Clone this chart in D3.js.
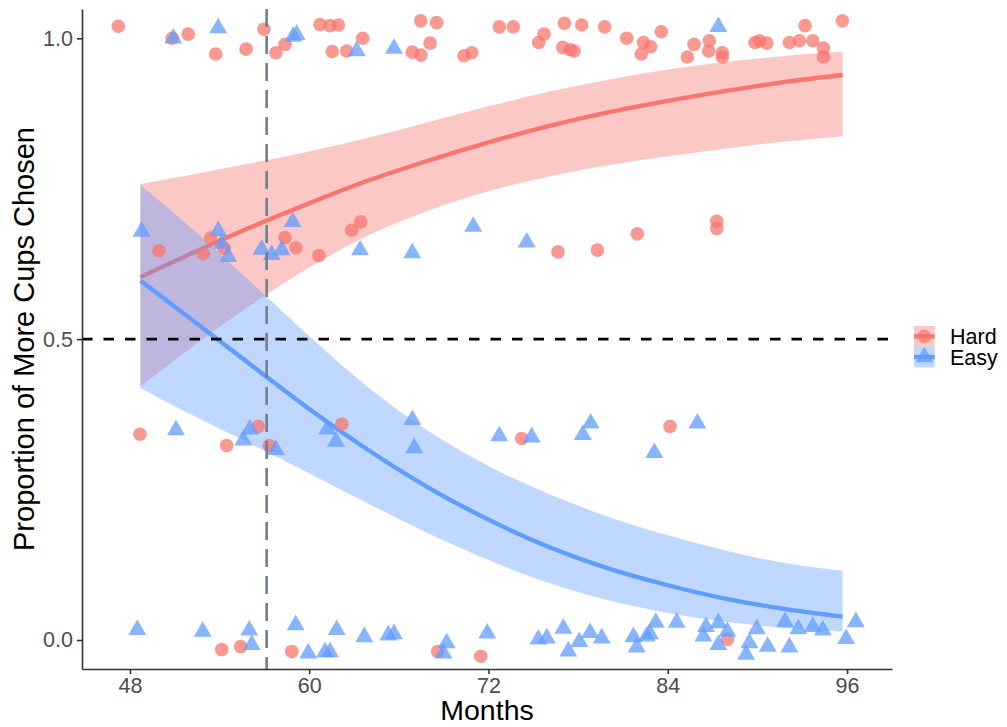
<!DOCTYPE html>
<html>
<head>
<meta charset="utf-8">
<script src="https://cdn.jsdelivr.net/npm/d3@7"></script>
<style>
  html, body { margin: 0; padding: 0; background: #fff; }
  svg { display: block; }
  text { font-family: "Liberation Sans", Arial, sans-serif; }
</style>
</head>
<body>
<svg id="chart" width="1007" height="727"></svg>
<script>
// ---------------- data ----------------
const groups = ["Hard", "Easy"];
const xTicks = [48, 60, 72, 84, 96];
const yTicks = [0.0, 0.5, 1.0];
const referenceAge = 57.15;
const chanceLevel = 0.5;

// Jittered observations (months, proportion)
const hardX = [47.22, 50.83, 51.90, 53.74, 55.77, 56.97, 57.77, 58.38, 60.72, 61.39, 61.95, 61.54, 62.51, 63.58, 66.90, 67.48, 68.09, 67.46, 68.53, 70.36, 70.88, 72.72, 73.66, 75.72, 75.36, 77.08, 78.24, 76.97, 77.46, 77.73, 79.78, 81.25, 82.37, 82.86, 82.23, 83.57, 85.31, 85.76, 86.78, 86.74, 87.65, 87.65, 89.84, 90.13, 90.63, 92.14, 92.81, 93.19, 93.71, 94.42, 94.42, 95.69,
  49.94, 52.91, 53.40, 54.31, 58.38, 59.11, 60.65, 62.84, 63.45, 76.65, 79.29, 81.96, 87.28, 87.28,
  48.67, 54.47, 56.59, 57.33, 62.19, 74.22, 84.15,
  54.14, 55.41, 58.83, 68.60, 71.48, 87.99];
const hardY = [1.020, 1.000, 1.007, 0.974, 0.982, 1.015, 0.976, 0.990, 1.023, 1.021, 1.022, 0.978, 0.979, 1.000, 0.977, 0.972, 0.992, 1.029, 1.026, 0.971, 0.976, 1.019, 1.019, 1.007, 0.993, 1.025, 1.022, 0.985, 0.981, 0.979, 1.019, 1.000, 0.993, 0.986, 0.974, 1.011, 0.969, 0.990, 0.996, 0.979, 0.976, 0.969, 0.993, 0.996, 0.992, 0.993, 0.996, 1.021, 0.996, 0.984, 0.969, 1.029,
  0.647, 0.642, 0.668, 0.651, 0.669, 0.652, 0.639, 0.681, 0.695, 0.645, 0.648, 0.675, 0.696, 0.684,
  0.342, 0.323, 0.355, 0.323, 0.359, 0.335, 0.355,
  -0.016, -0.011, -0.019, -0.019, -0.027, 0.001];

const easyX = [50.90, 53.91, 58.93, 59.16, 63.18, 65.67, 87.39,
  48.78, 53.91, 54.14, 54.58, 56.82, 57.49, 58.16, 58.89, 63.40, 66.90, 70.98, 74.56,
  51.08, 55.59, 56.03, 57.77, 61.21, 61.79, 66.90, 67.03, 72.72, 74.89, 78.84, 78.31, 83.10, 85.98,
  48.49, 52.87, 55.99, 56.15, 59.09, 59.94, 61.06, 61.39, 61.84, 63.69, 65.29, 65.67, 68.98, 69.20, 71.92, 75.34, 75.90, 77.01, 77.34, 78.08, 78.80, 79.58, 81.70, 81.92, 82.59, 82.81, 83.20, 84.60, 86.38, 86.56, 87.39, 87.39, 87.99, 89.24, 89.46, 89.96, 90.69, 91.85, 92.14, 92.74, 93.71, 94.38, 95.94, 96.59];
const easyY = [1.000, 1.017, 1.003, 1.006, 0.979, 0.983, 1.019,
  0.679, 0.680, 0.659, 0.637, 0.649, 0.640, 0.648, 0.695, 0.648, 0.643, 0.687, 0.661,
  0.349, 0.332, 0.350, 0.316, 0.350, 0.330, 0.366, 0.319, 0.339, 0.337, 0.360, 0.341, 0.311, 0.360,
  0.017, 0.014, 0.016, -0.008, 0.025, -0.022, -0.020, -0.020, 0.017, 0.005, 0.008, 0.010, -0.022, -0.005, 0.011, 0.001, 0.003, 0.019, -0.019, -0.003, 0.012, 0.003, 0.005, -0.012, 0.006, 0.010, 0.029, 0.029, 0.006, 0.022, 0.028, -0.008, 0.014, -0.024, -0.005, 0.018, -0.011, 0.030, -0.012, 0.018, 0.022, 0.016, 0.002, 0.030];

// Fitted logistic curves with 95% bands
const fitMonths = [48.7, 52, 56, 60, 64, 68, 72, 76, 80, 84, 88, 92, 95.7];
const hardFit   = [0.603, 0.641, 0.685, 0.726, 0.764, 0.797, 0.827, 0.854, 0.877, 0.896, 0.913, 0.928, 0.939];
const hardLower = [0.421, 0.484, 0.555, 0.619, 0.673, 0.714, 0.746, 0.770, 0.789, 0.804, 0.817, 0.829, 0.837];
const hardUpper = [0.758, 0.773, 0.792, 0.812, 0.835, 0.861, 0.887, 0.911, 0.931, 0.948, 0.961, 0.971, 0.978];
const easyFit   = [0.597, 0.535, 0.459, 0.384, 0.315, 0.253, 0.200, 0.155, 0.119, 0.091, 0.068, 0.051, 0.039];
const easyLower = [0.419, 0.376, 0.327, 0.277, 0.226, 0.177, 0.133, 0.095, 0.066, 0.045, 0.030, 0.020, 0.014];
const easyUpper = [0.756, 0.687, 0.597, 0.505, 0.419, 0.347, 0.289, 0.243, 0.205, 0.174, 0.148, 0.127, 0.115];

// ---------------- drawing ----------------
const colors = { Hard: "#F8766D", Easy: "#619CFF" };
const svg = d3.select("#chart");
const L = 82, R = 892, T = 9, B = 669;

const x = d3.scaleLinear().domain([44.79, 99.01]).range([L, R]);
const y = d3.scaleLinear().domain([-0.0482, 1.0487]).range([B, T]);

const plot = svg.append("g");

function smooth(name, fit, lo, hi) {
  const rows = fitMonths.map((m, i) => ({ m, f: fit[i], lo: lo[i], hi: hi[i] }));
  plot.append("path")
    .datum(rows)
    .attr("d", d3.area().x(d => x(d.m)).y0(d => y(d.lo)).y1(d => y(d.hi)).curve(d3.curveCatmullRom))
    .attr("fill", colors[name]).attr("fill-opacity", 0.4);
  plot.append("path")
    .datum(rows)
    .attr("d", d3.line().x(d => x(d.m)).y(d => y(d.f)).curve(d3.curveCatmullRom))
    .attr("fill", "none").attr("stroke", colors[name]).attr("stroke-width", 4.3);
}
smooth("Hard", hardFit, hardLower, hardUpper);
smooth("Easy", easyFit, easyLower, easyUpper);

// points
const hardPts = hardX.map((v, i) => [v, hardY[i]]);
const easyPts = easyX.map((v, i) => [v, easyY[i]]);
plot.selectAll("circle.hard").data(hardPts).join("circle")
  .attr("cx", d => x(d[0])).attr("cy", d => y(d[1])).attr("r", 6.8)
  .attr("fill", colors.Hard).attr("fill-opacity", 0.75);
const tri = d3.symbol().type(d3.symbolTriangle).size(140);
plot.selectAll("path.easy").data(easyPts).join("path")
  .attr("d", tri)
  .attr("transform", d => `translate(${x(d[0])},${y(d[1])})`)
  .attr("fill", colors.Easy).attr("fill-opacity", 0.75);

// reference lines
plot.append("line")
  .attr("x1", L).attr("x2", R).attr("y1", y(chanceLevel)).attr("y2", y(chanceLevel))
  .attr("stroke", "#000").attr("stroke-width", 2.8).attr("stroke-dasharray", "10.5,11");
plot.append("line")
  .attr("x1", x(referenceAge)).attr("x2", x(referenceAge)).attr("y1", T).attr("y2", B)
  .attr("stroke", "#708090").attr("stroke-width", 2.6).attr("stroke-dasharray", "18,9");

// axes
const xAxis = svg.append("g").attr("transform", `translate(0,${B})`)
  .call(d3.axisBottom(x).tickValues(xTicks).tickFormat(d3.format("d"))
    .tickSize(5).tickSizeOuter(0).tickPadding(4));
const yAxis = svg.append("g").attr("transform", `translate(${L},0)`)
  .call(d3.axisLeft(y).tickValues(yTicks).tickFormat(d3.format(".1f"))
    .tickSize(5).tickSizeOuter(0).tickPadding(4));
[xAxis, yAxis].forEach(g => {
  g.select(".domain").attr("stroke", "#333").attr("stroke-width", 1.6);
  g.selectAll(".tick line").attr("stroke", "#333").attr("stroke-width", 1.6);
  g.selectAll(".tick text").attr("fill", "#4D4D4D").attr("font-size", 21.5)
    .attr("font-family", "Liberation Sans, Arial, sans-serif");
});
xAxis.selectAll(".tick text").attr("dy", "0.72em");

// titles
svg.append("text").attr("x", (L + R) / 2).attr("y", 720)
  .attr("text-anchor", "middle").attr("font-size", 28.5).attr("fill", "#000").text("Months");
svg.append("text").attr("transform", `translate(34,${(T + B) / 2}) rotate(-90)`)
  .attr("text-anchor", "middle").attr("font-size", 29).attr("fill", "#000")
  .text("Proportion of More Cups Chosen");

// legend
const legend = svg.append("g").attr("transform", "translate(914,326)");
groups.forEach((g, i) => {
  const k = legend.append("g").attr("transform", `translate(0,${i * 20.7})`);
  k.append("rect").attr("width", 20.7).attr("height", 20.7)
    .attr("fill", colors[g]).attr("fill-opacity", 0.4);
  k.append("line").attr("x1", 0).attr("x2", 20.7).attr("y1", 10.35).attr("y2", 10.35)
    .attr("stroke", colors[g]).attr("stroke-width", 4.3);
  if (g === "Hard") {
    k.append("circle").attr("cx", 10.35).attr("cy", 10.35).attr("r", 6.8)
      .attr("fill", colors[g]).attr("fill-opacity", 0.75);
  } else {
    k.append("path").attr("d", tri).attr("transform", "translate(10.35,10.35)")
      .attr("fill", colors[g]).attr("fill-opacity", 0.75);
  }
  k.append("text").attr("x", 36).attr("y", 10.35).attr("dy", "0.36em")
    .attr("font-size", 21.5).attr("fill", "#000").text(g);
});
</script>
</body>
</html>
